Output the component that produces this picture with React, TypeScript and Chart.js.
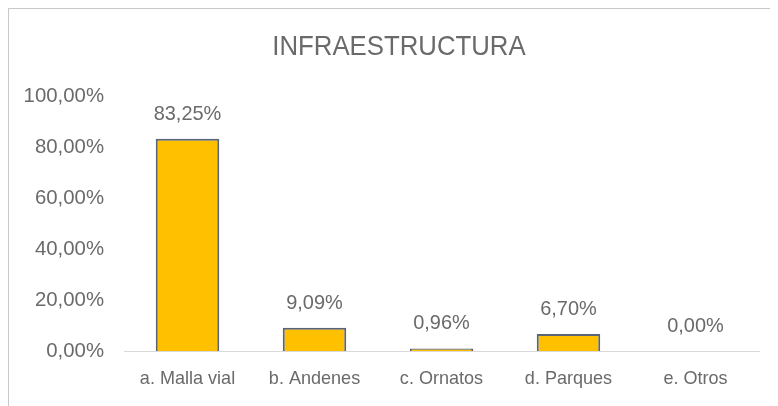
import React, { useEffect, useRef } from "react";
import { Chart, registerables } from "chart.js";

Chart.register(...registerables);

const categories = ["a. Malla vial", "b. Andenes", "c. Ornatos", "d. Parques", "e. Otros"];
const values = [83.25, 9.09, 0.96, 6.7, 0.0];
const yTicks = [0, 20, 40, 60, 80, 100];
const title = "INFRAESTRUCTURA";

const FONT = "'Liberation Sans', Arial, sans-serif";
const TEXT = "#6a6a6a";

const fmt = (v: number) => v.toFixed(2).replace(".", ",") + "%";

function drawText(
  ctx: CanvasRenderingContext2D,
  text: string,
  x: number,
  y: number,
  size: number,
  sx: number,
  align: CanvasTextAlign
) {
  ctx.save();
  ctx.translate(x, y);
  ctx.scale(sx, 1);
  ctx.font = `${size}px ${FONT}`;
  ctx.fillStyle = TEXT;
  ctx.textAlign = align;
  ctx.textBaseline = "middle";
  ctx.fillText(text, 0, 0);
  ctx.restore();
}

const textPlugin = {
  id: "allText",
  afterDraw(chart: any) {
    const ctx = chart.ctx;
    const area = chart.chartArea;
    const xs = chart.scales.x;
    const ys = chart.scales.y;
    // frame (left and top edges visible)
    ctx.save();
    ctx.strokeStyle = "#c8c8c8";
    ctx.lineWidth = 2;
    ctx.beginPath();
    ctx.moveTo(1, chart.height);
    ctx.lineTo(1, 1);
    ctx.lineTo(chart.width, 1);
    ctx.stroke();
    ctx.restore();
    // title
    drawText(ctx, title, 392, 40, 28, 0.92, "center");
    // y ticks
    yTicks.forEach((v) => {
      drawText(ctx, fmt(v), area.left - 20, ys.getPixelForValue(v), 21, 0.97, "right");
    });
    // x labels
    categories.forEach((c, i) => {
      drawText(ctx, c, xs.getPixelForValue(i), area.bottom + 28, 19, 0.95, "center");
    });
    // value labels
    const meta = chart.getDatasetMeta(0);
    meta.data.forEach((bar: any, i: number) => {
      drawText(ctx, fmt(values[i]), bar.x, bar.y - 25, 21, 0.95, "center");
    });
  },
};

export default function App() {
  const ref = useRef<HTMLCanvasElement>(null);
  useEffect(() => {
    if (!ref.current) return;
    const chart = new Chart(ref.current, {
      type: "bar",
      data: {
        labels: categories,
        datasets: [
          {
            data: values,
            backgroundColor: "#FFC000",
            borderColor: "#5a6478",
            borderWidth: 2,
            barPercentage: 0.5,
            categoryPercentage: 1,
          },
        ],
      },
      options: {
        animation: false,
        responsive: false,
        maintainAspectRatio: false,
        layout: { padding: { left: 0, right: 19, top: 89, bottom: 0 } },
        plugins: {
          legend: { display: false },
          tooltip: { enabled: false },
          title: { display: false },
        },
        scales: {
          x: {
            grid: { display: false, drawTicks: false },
            border: { display: true, color: "#d9d9d9", width: 1 },
            ticks: { display: false },
            afterFit: (s: any) => {
              s.height = 55;
            },
          },
          y: {
            min: 0,
            max: 100,
            afterBuildTicks: (s: any) => {
              s.ticks = yTicks.map((v) => ({ value: v }));
            },
            grid: { display: false, drawTicks: false },
            border: { display: false },
            ticks: { display: false },
            afterFit: (s: any) => {
              s.width = 117;
            },
          },
        },
      },
      plugins: [textPlugin],
    });
    return () => chart.destroy();
  }, []);
  return (
    <div style={{ marginLeft: -1, marginTop: -1, width: 771, height: 399 }}>
      <canvas ref={ref} width={771} height={399} style={{ display: "block" }} />
    </div>
  );
}
